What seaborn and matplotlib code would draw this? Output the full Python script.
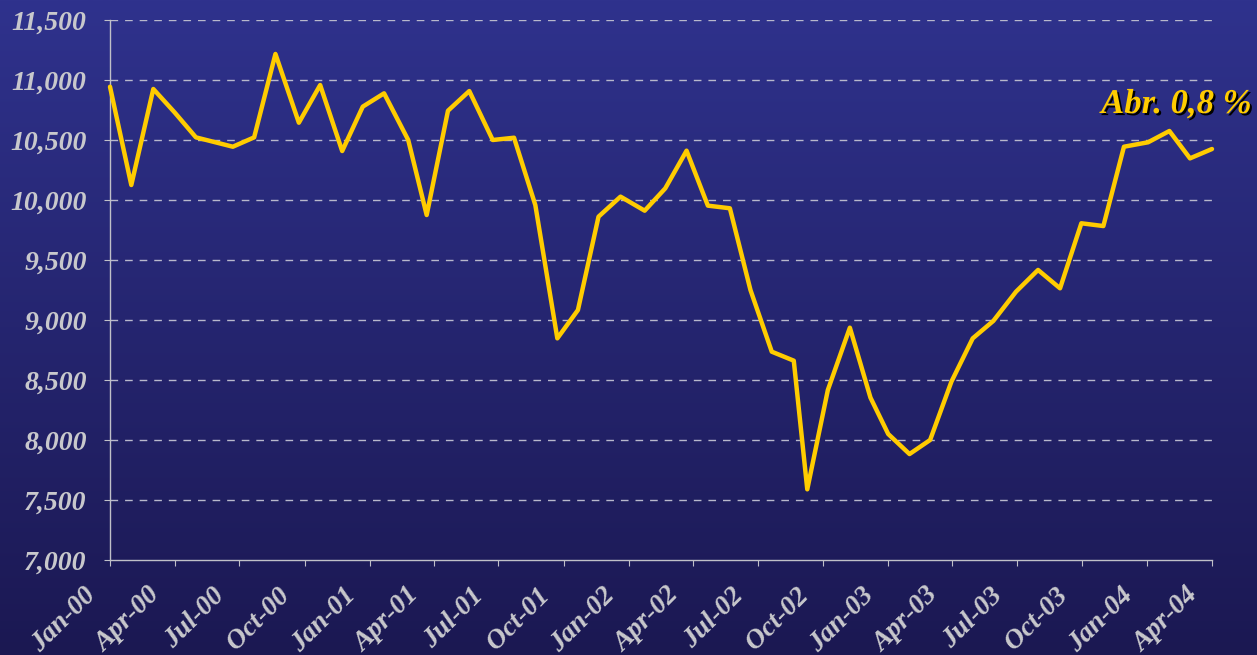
import numpy as np
import pandas as pd
import seaborn as sns
import matplotlib.pyplot as plt
import matplotlib.dates as mdates
import matplotlib.ticker as mticker
import matplotlib.patheffects as pe
from matplotlib.transforms import ScaledTranslation

sns.set_style("white")
plt.rcParams['font.family'] = ['Liberation Serif', 'DejaVu Serif']

dates = ["2000-01-01", "2000-01-31", "2000-03-02", "2000-04-01", "2000-05-01",
         "2000-06-22", "2000-07-22", "2000-08-21", "2000-09-23", "2000-10-23",
         "2000-11-23", "2000-12-22", "2001-01-21", "2001-02-24", "2001-03-22",
         "2001-04-21", "2001-05-21", "2001-06-23", "2001-07-23", "2001-08-22",
         "2001-09-22", "2001-10-21", "2001-11-19", "2001-12-20", "2002-01-23",
         "2002-02-21", "2002-03-23", "2002-04-22", "2002-05-23", "2002-06-21",
         "2002-07-21", "2002-08-21", "2002-09-09", "2002-10-08", "2002-11-08",
         "2002-12-07", "2003-01-01", "2003-01-31", "2003-03-01", "2003-03-31",
         "2003-04-30", "2003-05-29", "2003-06-30", "2003-07-31", "2003-08-31",
         "2003-09-30", "2003-10-31", "2003-11-29", "2004-01-02", "2004-02-01",
         "2004-03-01", "2004-04-01"]
values = [10944, 10125, 10925, 10730, 10522, 10444, 10522, 11217, 10644, 10958,
          10408, 10778, 10889, 10500, 9875, 10744, 10908, 10500, 10519, 9958,
          8847, 9083, 9861, 10028, 9911, 10097, 10411, 9953, 9931, 9250,
          8736, 8661, 7589, 8417, 8936, 8353, 8050, 7883, 8000, 8486,
          8847, 8992, 9236, 9417, 9264, 9806, 9783, 10444, 10481, 10575,
          10347, 10425]
y_ticks = [7000, 7500, 8000, 8500, 9000, 9500, 10000, 10500, 11000, 11500]
note = "Abr. 0,8 %"

df = pd.DataFrame({"fecha": pd.to_datetime(dates), "valor": values})

fig = plt.figure(figsize=(12.57, 6.55), dpi=100)

# gradient background
bg = fig.add_axes([0, 0, 1, 1], zorder=-10)
top = np.array([47, 50, 141]) / 255
bot = np.array([27, 24, 82]) / 255
t = np.linspace(0, 1, 256)[:, None]
grad = (top * (1 - t) + bot * t)[:, None, :]
bg.imshow(grad, aspect='auto', extent=[0, 1, 0, 1])
bg.axis('off')

ax = fig.add_axes([110 / 1257, 1 - 560 / 655, 1102 / 1257, 540 / 655])
ax.set_facecolor('none')

sns.lineplot(data=df, x="fecha", y="valor", ax=ax, color='#FFCC00', linewidth=3.2,
             solid_capstyle='round', solid_joinstyle='round', clip_on=False, zorder=3)

ax.set_xlim(pd.Timestamp("2000-01-01"), pd.Timestamp("2004-04-01"))
ax.set_ylim(7000, 11500)
ax.set_yticks(y_ticks)
ax.yaxis.set_major_formatter(mticker.FuncFormatter(lambda v, p: f"{int(v):,}"))
ax.xaxis.set_major_locator(mdates.MonthLocator(bymonth=[1, 4, 7, 10]))
ax.xaxis.set_major_formatter(mdates.DateFormatter("%b-%y"))
ax.set_xlabel("")
ax.set_ylabel("")

for v in y_ticks[1:]:
    ax.axhline(v, color='#b8b8cc', linewidth=1.0, linestyle=(0, (5.5, 5)), zorder=1)

for s in ['top', 'right']:
    ax.spines[s].set_visible(False)
for s in ['left', 'bottom']:
    ax.spines[s].set_color('#c0c0c8')
    ax.spines[s].set_linewidth(1.0)

lab_font = dict(family='Liberation Serif', weight='bold', style='italic', size=20)
ax.tick_params(axis='both', which='major', bottom=True, left=True, direction='out',
               length=4.3, width=0.8, color='#c0c0c8', labelcolor='#c8c8cc')
ax.tick_params(axis='y', pad=12.5)
ax.tick_params(axis='x', pad=0)
for lab in ax.get_yticklabels():
    lab.set_fontproperties(lab_font)
    lab.set_color('#c8c8cc')
offset = ScaledTranslation(-0.27, -0.17, fig.dpi_scale_trans)
for lab in ax.get_xticklabels():
    lab.set_fontproperties(lab_font)
    lab.set_color('#c8c8cc')
    lab.set_rotation(45)
    lab.set_ha('right')
    lab.set_va('top')
    lab.set_rotation_mode('anchor')
    lab.set_transform(lab.get_transform() + offset)

fig.text(1252 / 1257, 1 - 113 / 655, note, ha='right', va='baseline',
         family='Liberation Serif', weight='bold', style='italic', size=25,
         color='#FFCC00',
         path_effects=[pe.withSimplePatchShadow(offset=(1.5, -1.5), shadow_rgbFace='black', alpha=1.0)])

fig.savefig("out.png", dpi=100)
